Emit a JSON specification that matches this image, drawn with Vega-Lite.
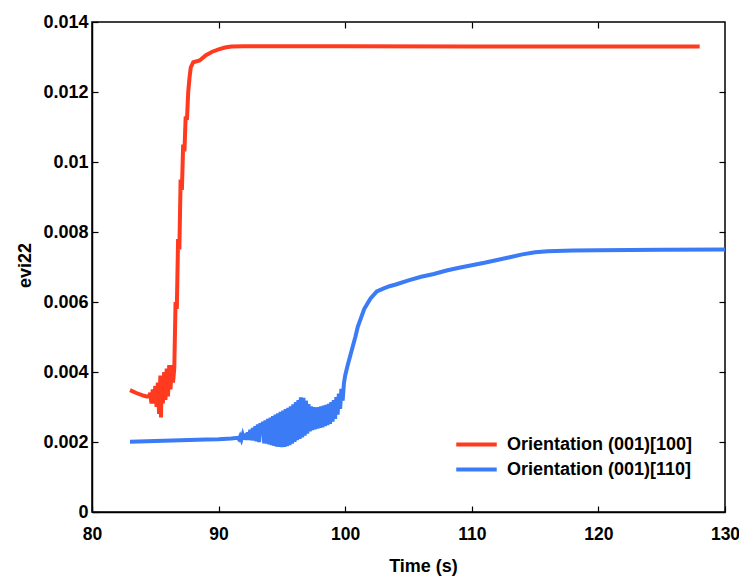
{
  "$schema": "https://vega.github.io/schema/vega-lite/v6.json",
  "autosize": {"type": "none"},
  "width": 633,
  "height": 490,
  "padding": {"left": 92, "top": 22, "right": 14, "bottom": 67},
  "config": {
    "view": {"stroke": "#000", "strokeWidth": 1.5},
    "font": "Liberation Sans",
    "axis": {"grid": false, "labelFlush": false, "labelOverlap": false, "domainColor": "#000", "domainWidth": 1.5, "tickColor": "#000", "tickWidth": 1.2, "tickSize": -6, "labelFont": "Liberation Sans", "labelFontWeight": "bold", "labelFontSize": 18, "labelColor": "#000", "titleFont": "Liberation Sans", "titleFontWeight": "bold", "titleFontSize": 18, "titleColor": "#000"}
  },
  "data": {"values": [
    {"t": 83, "v": 0.00348, "s": "Orientation (001)[100]"},
    {"t": 83.5, "v": 0.0034, "s": "Orientation (001)[100]"},
    {"t": 84, "v": 0.00333, "s": "Orientation (001)[100]"},
    {"t": 84.3, "v": 0.0033, "s": "Orientation (001)[100]"},
    {"t": 84.5, "v": 0.0033, "s": "Orientation (001)[100]"},
    {"t": 84.6, "v": 0.0034, "s": "Orientation (001)[100]"},
    {"t": 84.7, "v": 0.0031, "s": "Orientation (001)[100]"},
    {"t": 84.8, "v": 0.0035, "s": "Orientation (001)[100]"},
    {"t": 84.9, "v": 0.0031, "s": "Orientation (001)[100]"},
    {"t": 85.0, "v": 0.0036, "s": "Orientation (001)[100]"},
    {"t": 85.1, "v": 0.003, "s": "Orientation (001)[100]"},
    {"t": 85.2, "v": 0.0037, "s": "Orientation (001)[100]"},
    {"t": 85.3, "v": 0.0028, "s": "Orientation (001)[100]"},
    {"t": 85.4, "v": 0.0039, "s": "Orientation (001)[100]"},
    {"t": 85.45, "v": 0.0027, "s": "Orientation (001)[100]"},
    {"t": 85.5, "v": 0.0038, "s": "Orientation (001)[100]"},
    {"t": 85.6, "v": 0.0031, "s": "Orientation (001)[100]"},
    {"t": 85.7, "v": 0.004, "s": "Orientation (001)[100]"},
    {"t": 85.8, "v": 0.0032, "s": "Orientation (001)[100]"},
    {"t": 85.9, "v": 0.0041, "s": "Orientation (001)[100]"},
    {"t": 86.0, "v": 0.0033, "s": "Orientation (001)[100]"},
    {"t": 86.1, "v": 0.0042, "s": "Orientation (001)[100]"},
    {"t": 86.2, "v": 0.0035, "s": "Orientation (001)[100]"},
    {"t": 86.3, "v": 0.0042, "s": "Orientation (001)[100]"},
    {"t": 86.4, "v": 0.0037, "s": "Orientation (001)[100]"},
    {"t": 86.5, "v": 0.0041, "s": "Orientation (001)[100]"},
    {"t": 86.6, "v": 0.006, "s": "Orientation (001)[100]"},
    {"t": 86.7, "v": 0.0058, "s": "Orientation (001)[100]"},
    {"t": 86.8, "v": 0.0078, "s": "Orientation (001)[100]"},
    {"t": 86.9, "v": 0.0075, "s": "Orientation (001)[100]"},
    {"t": 87.0, "v": 0.0095, "s": "Orientation (001)[100]"},
    {"t": 87.1, "v": 0.0092, "s": "Orientation (001)[100]"},
    {"t": 87.2, "v": 0.0105, "s": "Orientation (001)[100]"},
    {"t": 87.3, "v": 0.0103, "s": "Orientation (001)[100]"},
    {"t": 87.4, "v": 0.0113, "s": "Orientation (001)[100]"},
    {"t": 87.5, "v": 0.0112, "s": "Orientation (001)[100]"},
    {"t": 87.6, "v": 0.012, "s": "Orientation (001)[100]"},
    {"t": 87.7, "v": 0.0124, "s": "Orientation (001)[100]"},
    {"t": 87.8, "v": 0.0127, "s": "Orientation (001)[100]"},
    {"t": 88.0, "v": 0.01285, "s": "Orientation (001)[100]"},
    {"t": 88.5, "v": 0.0129, "s": "Orientation (001)[100]"},
    {"t": 89, "v": 0.01305, "s": "Orientation (001)[100]"},
    {"t": 89.5, "v": 0.01315, "s": "Orientation (001)[100]"},
    {"t": 90, "v": 0.01322, "s": "Orientation (001)[100]"},
    {"t": 90.5, "v": 0.01327, "s": "Orientation (001)[100]"},
    {"t": 91, "v": 0.0133, "s": "Orientation (001)[100]"},
    {"t": 92, "v": 0.01331, "s": "Orientation (001)[100]"},
    {"t": 100, "v": 0.01331, "s": "Orientation (001)[100]"},
    {"t": 110, "v": 0.0133, "s": "Orientation (001)[100]"},
    {"t": 120, "v": 0.0133, "s": "Orientation (001)[100]"},
    {"t": 128, "v": 0.0133, "s": "Orientation (001)[100]"},
    {"t": 83, "v": 0.00201, "s": "Orientation (001)[110]"},
    {"t": 85, "v": 0.00203, "s": "Orientation (001)[110]"},
    {"t": 87, "v": 0.00205, "s": "Orientation (001)[110]"},
    {"t": 89, "v": 0.00207, "s": "Orientation (001)[110]"},
    {"t": 90, "v": 0.00208, "s": "Orientation (001)[110]"},
    {"t": 91, "v": 0.0021, "s": "Orientation (001)[110]"},
    {"t": 91.5, "v": 0.00212, "s": "Orientation (001)[110]"},
    {"t": 91.6, "v": 0.00208, "s": "Orientation (001)[110]"},
    {"t": 91.7, "v": 0.00216, "s": "Orientation (001)[110]"},
    {"t": 91.8, "v": 0.00207, "s": "Orientation (001)[110]"},
    {"t": 91.9, "v": 0.0022, "s": "Orientation (001)[110]"},
    {"t": 92.0, "v": 0.00207, "s": "Orientation (001)[110]"},
    {"t": 92.1, "v": 0.00224, "s": "Orientation (001)[110]"},
    {"t": 92.2, "v": 0.00206, "s": "Orientation (001)[110]"},
    {"t": 92.3, "v": 0.00228, "s": "Orientation (001)[110]"},
    {"t": 92.4, "v": 0.00206, "s": "Orientation (001)[110]"},
    {"t": 92.5, "v": 0.00235, "s": "Orientation (001)[110]"},
    {"t": 92.6, "v": 0.00205, "s": "Orientation (001)[110]"},
    {"t": 92.7, "v": 0.0024, "s": "Orientation (001)[110]"},
    {"t": 92.8, "v": 0.00204, "s": "Orientation (001)[110]"},
    {"t": 92.9, "v": 0.00245, "s": "Orientation (001)[110]"},
    {"t": 93.0, "v": 0.00202, "s": "Orientation (001)[110]"},
    {"t": 93.1, "v": 0.0025, "s": "Orientation (001)[110]"},
    {"t": 93.2, "v": 0.002, "s": "Orientation (001)[110]"},
    {"t": 93.3, "v": 0.00254, "s": "Orientation (001)[110]"},
    {"t": 93.4, "v": 0.00225, "s": "Orientation (001)[110]"},
    {"t": 93.5, "v": 0.00258, "s": "Orientation (001)[110]"},
    {"t": 93.6, "v": 0.00196, "s": "Orientation (001)[110]"},
    {"t": 93.7, "v": 0.00262, "s": "Orientation (001)[110]"},
    {"t": 93.8, "v": 0.00195, "s": "Orientation (001)[110]"},
    {"t": 93.9, "v": 0.00266, "s": "Orientation (001)[110]"},
    {"t": 94.0, "v": 0.00193, "s": "Orientation (001)[110]"},
    {"t": 94.1, "v": 0.0027, "s": "Orientation (001)[110]"},
    {"t": 94.2, "v": 0.00191, "s": "Orientation (001)[110]"},
    {"t": 94.3, "v": 0.00274, "s": "Orientation (001)[110]"},
    {"t": 94.4, "v": 0.00189, "s": "Orientation (001)[110]"},
    {"t": 94.5, "v": 0.00278, "s": "Orientation (001)[110]"},
    {"t": 94.6, "v": 0.00187, "s": "Orientation (001)[110]"},
    {"t": 94.7, "v": 0.00282, "s": "Orientation (001)[110]"},
    {"t": 94.8, "v": 0.00186, "s": "Orientation (001)[110]"},
    {"t": 94.9, "v": 0.00286, "s": "Orientation (001)[110]"},
    {"t": 95.0, "v": 0.00185, "s": "Orientation (001)[110]"},
    {"t": 95.1, "v": 0.0029, "s": "Orientation (001)[110]"},
    {"t": 95.2, "v": 0.00186, "s": "Orientation (001)[110]"},
    {"t": 95.3, "v": 0.00294, "s": "Orientation (001)[110]"},
    {"t": 95.4, "v": 0.00188, "s": "Orientation (001)[110]"},
    {"t": 95.5, "v": 0.00298, "s": "Orientation (001)[110]"},
    {"t": 95.6, "v": 0.00191, "s": "Orientation (001)[110]"},
    {"t": 95.7, "v": 0.00302, "s": "Orientation (001)[110]"},
    {"t": 95.8, "v": 0.00195, "s": "Orientation (001)[110]"},
    {"t": 95.9, "v": 0.00308, "s": "Orientation (001)[110]"},
    {"t": 96.0, "v": 0.002, "s": "Orientation (001)[110]"},
    {"t": 96.1, "v": 0.00314, "s": "Orientation (001)[110]"},
    {"t": 96.2, "v": 0.00205, "s": "Orientation (001)[110]"},
    {"t": 96.3, "v": 0.0032, "s": "Orientation (001)[110]"},
    {"t": 96.4, "v": 0.00209, "s": "Orientation (001)[110]"},
    {"t": 96.5, "v": 0.00328, "s": "Orientation (001)[110]"},
    {"t": 96.6, "v": 0.00213, "s": "Orientation (001)[110]"},
    {"t": 96.7, "v": 0.00326, "s": "Orientation (001)[110]"},
    {"t": 96.8, "v": 0.00218, "s": "Orientation (001)[110]"},
    {"t": 96.9, "v": 0.00318, "s": "Orientation (001)[110]"},
    {"t": 97.0, "v": 0.00224, "s": "Orientation (001)[110]"},
    {"t": 97.1, "v": 0.00308, "s": "Orientation (001)[110]"},
    {"t": 97.2, "v": 0.0023, "s": "Orientation (001)[110]"},
    {"t": 97.3, "v": 0.00302, "s": "Orientation (001)[110]"},
    {"t": 97.4, "v": 0.00234, "s": "Orientation (001)[110]"},
    {"t": 97.5, "v": 0.003, "s": "Orientation (001)[110]"},
    {"t": 97.6, "v": 0.00236, "s": "Orientation (001)[110]"},
    {"t": 97.7, "v": 0.00299, "s": "Orientation (001)[110]"},
    {"t": 97.8, "v": 0.00238, "s": "Orientation (001)[110]"},
    {"t": 97.9, "v": 0.003, "s": "Orientation (001)[110]"},
    {"t": 98.0, "v": 0.0024, "s": "Orientation (001)[110]"},
    {"t": 98.1, "v": 0.00302, "s": "Orientation (001)[110]"},
    {"t": 98.2, "v": 0.00242, "s": "Orientation (001)[110]"},
    {"t": 98.3, "v": 0.00304, "s": "Orientation (001)[110]"},
    {"t": 98.4, "v": 0.00245, "s": "Orientation (001)[110]"},
    {"t": 98.5, "v": 0.00306, "s": "Orientation (001)[110]"},
    {"t": 98.6, "v": 0.00248, "s": "Orientation (001)[110]"},
    {"t": 98.7, "v": 0.00309, "s": "Orientation (001)[110]"},
    {"t": 98.8, "v": 0.00252, "s": "Orientation (001)[110]"},
    {"t": 98.9, "v": 0.00314, "s": "Orientation (001)[110]"},
    {"t": 99.0, "v": 0.00258, "s": "Orientation (001)[110]"},
    {"t": 99.1, "v": 0.0032, "s": "Orientation (001)[110]"},
    {"t": 99.2, "v": 0.00266, "s": "Orientation (001)[110]"},
    {"t": 99.3, "v": 0.00328, "s": "Orientation (001)[110]"},
    {"t": 99.4, "v": 0.00278, "s": "Orientation (001)[110]"},
    {"t": 99.5, "v": 0.00338, "s": "Orientation (001)[110]"},
    {"t": 99.6, "v": 0.00295, "s": "Orientation (001)[110]"},
    {"t": 99.7, "v": 0.00352, "s": "Orientation (001)[110]"},
    {"t": 99.8, "v": 0.00318, "s": "Orientation (001)[110]"},
    {"t": 99.9, "v": 0.00368, "s": "Orientation (001)[110]"},
    {"t": 100.0, "v": 0.0039, "s": "Orientation (001)[110]"},
    {"t": 100.2, "v": 0.0042, "s": "Orientation (001)[110]"},
    {"t": 100.5, "v": 0.0046, "s": "Orientation (001)[110]"},
    {"t": 100.8, "v": 0.005, "s": "Orientation (001)[110]"},
    {"t": 101.0, "v": 0.0053, "s": "Orientation (001)[110]"},
    {"t": 101.5, "v": 0.0058, "s": "Orientation (001)[110]"},
    {"t": 102.0, "v": 0.0061, "s": "Orientation (001)[110]"},
    {"t": 102.5, "v": 0.0063, "s": "Orientation (001)[110]"},
    {"t": 103.0, "v": 0.00638, "s": "Orientation (001)[110]"},
    {"t": 103.5, "v": 0.00645, "s": "Orientation (001)[110]"},
    {"t": 104, "v": 0.0065, "s": "Orientation (001)[110]"},
    {"t": 105, "v": 0.00662, "s": "Orientation (001)[110]"},
    {"t": 106, "v": 0.00672, "s": "Orientation (001)[110]"},
    {"t": 107, "v": 0.0068, "s": "Orientation (001)[110]"},
    {"t": 108, "v": 0.0069, "s": "Orientation (001)[110]"},
    {"t": 109, "v": 0.00698, "s": "Orientation (001)[110]"},
    {"t": 110, "v": 0.00705, "s": "Orientation (001)[110]"},
    {"t": 111, "v": 0.00712, "s": "Orientation (001)[110]"},
    {"t": 112, "v": 0.0072, "s": "Orientation (001)[110]"},
    {"t": 113, "v": 0.00728, "s": "Orientation (001)[110]"},
    {"t": 114, "v": 0.00736, "s": "Orientation (001)[110]"},
    {"t": 115, "v": 0.00742, "s": "Orientation (001)[110]"},
    {"t": 116, "v": 0.00745, "s": "Orientation (001)[110]"},
    {"t": 118, "v": 0.00747, "s": "Orientation (001)[110]"},
    {"t": 120, "v": 0.00748, "s": "Orientation (001)[110]"},
    {"t": 125, "v": 0.00749, "s": "Orientation (001)[110]"},
    {"t": 130, "v": 0.0075, "s": "Orientation (001)[110]"}
  ]},
  "layer": [
    {
      "mark": {"type": "line", "strokeWidth": 4},
      "encoding": {
        "x": {"field": "t", "type": "quantitative", "scale": {"domain": [80, 130], "nice": false, "zero": false}, "axis": {"title": "Time (s)", "values": [80, 90, 100, 110, 120, 130], "labelFontSize": 17.5, "labelPadding": 19, "titlePadding": 15, "titleX": 331}},
        "y": {"field": "v", "type": "quantitative", "scale": {"domain": [0, 0.014], "nice": false}, "axis": {"title": "evi22", "values": [0, 0.002, 0.004, 0.006, 0.008, 0.01, 0.012, 0.014], "format": "~g", "labelPadding": 10, "titlePadding": 8, "titleY": 243}},
        "color": {"field": "s", "type": "nominal", "scale": {"domain": ["Orientation (001)[100]", "Orientation (001)[110]"], "range": ["#ff3a1f", "#3b7bf5"]},
          "legend": {"title": null, "orient": "none", "legendX": 369, "legendY": 407, "padding": 0, "symbolType": "M-1.5,0H1.5", "symbolSize": 729, "symbolStrokeWidth": 4, "labelOffset": 15, "labelFont": "Liberation Sans", "labelFontWeight": "bold", "labelFontSize": 18, "labelColor": "#000", "rowPadding": 0, "labelLimit": 400}}
      }
    },
    {
      "mark": {"type": "line", "opacity": 0},
      "encoding": {
        "x": {"field": "t", "type": "quantitative", "scale": {"domain": [80, 130], "nice": false, "zero": false}, "axis": {"orient": "top", "title": null, "labels": false, "domain": false, "values": [90, 100, 110, 120]}},
        "y": {"field": "v", "type": "quantitative", "scale": {"domain": [0, 0.014], "nice": false}, "axis": {"orient": "right", "title": null, "labels": false, "domain": false, "values": [0.002, 0.004, 0.006, 0.008, 0.01, 0.012]}}
      }
    }
  ],
  "resolve": {"axis": {"x": "independent", "y": "independent"}}
}
